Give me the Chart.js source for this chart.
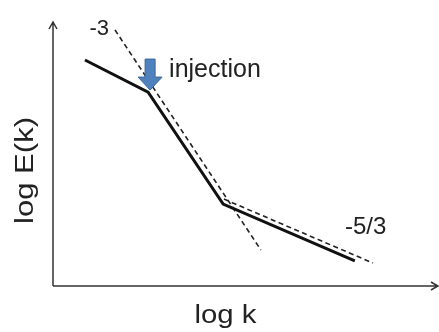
<!DOCTYPE html>
<html>
<head>
<meta charset="utf-8">
<script src="https://cdn.jsdelivr.net/npm/chart.js@4"></script>
<style>
  html, body { margin: 0; background: #fff; }
</style>
</head>
<body>
<canvas id="chart" width="439" height="332"></canvas>
<script>
// log k / log E(k) in arbitrary units, both axes run 0..10
const spectrumK = [0.83, 2.47, 4.42, 7.84];
const spectrumE = [8.66, 7.43, 3.14, 0.96];
const slope3K = [1.61, 5.40];
const slope3E = [9.81, 1.38];
const slope53K = [4.44, 8.31];
const slope53E = [3.33, 0.88];
const slopeLabels = ['-3', '-5/3'];
const injectionLabel = 'injection';
const axisTitles = ['log k', 'log E(k)'];

const toPoints = (xs, ys) => xs.map((x, i) => ({ x, y: ys[i] }));

const INK = '#222';
const FONT = '"Liberation Sans", Arial, sans-serif';

// text stretched to a target width (the reference type is a bit wide)
function fitText(ctx, text, x, y, size, width, rotate) {
  ctx.save();
  ctx.font = `${size}px ${FONT}`;
  ctx.fillStyle = INK;
  ctx.textAlign = 'center';
  ctx.textBaseline = 'alphabetic';
  ctx.translate(x, y);
  if (rotate) ctx.rotate(-Math.PI / 2);
  const natural = ctx.measureText(text).width;
  ctx.scale(width ? width / natural : 1, 1);
  ctx.fillText(text, 0, 0);
  ctx.restore();
}

const sketchPlugin = {
  id: 'sketch',
  afterDatasetsDraw(chart) {
    const { ctx, chartArea: area, scales } = chart;
    const px = (v) => scales.x.getPixelForValue(v);
    const py = (v) => scales.y.getPixelForValue(v);

    // axes with open arrow heads
    ctx.save();
    ctx.strokeStyle = '#333';
    ctx.lineWidth = 1.5;
    ctx.beginPath();
    ctx.moveTo(area.left, area.bottom);
    ctx.lineTo(area.left, area.top - 3);
    ctx.moveTo(area.left, area.bottom);
    ctx.lineTo(area.right, area.bottom);
    ctx.moveTo(area.left - 4, area.top + 4);
    ctx.lineTo(area.left, area.top - 3);
    ctx.lineTo(area.left + 4, area.top + 4);
    ctx.moveTo(area.right - 7, area.bottom - 4);
    ctx.lineTo(area.right, area.bottom);
    ctx.lineTo(area.right - 7, area.bottom + 4);
    ctx.stroke();
    ctx.restore();

    // injection arrow pointing at the first break
    const tipX = px(spectrumK[1]) + 2;
    const tipY = py(spectrumE[1]) - 2;
    ctx.save();
    ctx.fillStyle = '#4f81bd';
    ctx.strokeStyle = '#3a679c';
    ctx.lineWidth = 1;
    ctx.beginPath();
    ctx.moveTo(tipX, tipY);
    ctx.lineTo(tipX - 12, tipY - 13);
    ctx.lineTo(tipX - 5, tipY - 13);
    ctx.lineTo(tipX - 5, tipY - 31);
    ctx.lineTo(tipX + 5, tipY - 31);
    ctx.lineTo(tipX + 5, tipY - 13);
    ctx.lineTo(tipX + 12, tipY - 13);
    ctx.closePath();
    ctx.fill();
    ctx.stroke();
    ctx.restore();

    ctx.save();
    ctx.fillStyle = INK;
    ctx.textBaseline = 'alphabetic';
    ctx.font = `25px ${FONT}`;
    ctx.textAlign = 'left';
    ctx.fillText(injectionLabel, tipX + 19, tipY - 13);
    ctx.font = `22px ${FONT}`;
    ctx.textAlign = 'right';
    ctx.fillText(slopeLabels[0], px(slope3K[0]) - 6, py(slope3E[0]) + 5);
    ctx.font = `24px ${FONT}`;
    ctx.textAlign = 'left';
    ctx.fillText(slopeLabels[1], px(slope53K[1]) - 28, py(slope53E[1]) - 29);
    ctx.restore();

    // axis titles
    fitText(ctx, axisTitles[0], (area.left + area.right) / 2 - 20, area.bottom + 37, 26, 62, false);
    fitText(ctx, axisTitles[1], area.left - 20, (area.top + area.bottom) / 2 + 15, 26, 107, true);
  },
};

new Chart(document.getElementById('chart'), {
  type: 'scatter',
  data: {
    datasets: [
      {
        data: toPoints(spectrumK, spectrumE),
        showLine: true,
        borderColor: '#111',
        borderWidth: 3,
        borderJoinStyle: 'miter',
        pointRadius: 0,
      },
      {
        data: toPoints(slope3K, slope3E),
        showLine: true,
        borderColor: INK,
        borderWidth: 1.6,
        borderDash: [5, 3.5],
        pointRadius: 0,
      },
      {
        data: toPoints(slope53K, slope53E),
        showLine: true,
        borderColor: INK,
        borderWidth: 1.6,
        borderDash: [5, 3.5],
        pointRadius: 0,
      },
    ],
  },
  options: {
    responsive: false,
    animation: false,
    devicePixelRatio: 1,
    layout: { padding: { left: 53, right: 1, top: 25, bottom: 46 } },
    scales: {
      x: { type: 'linear', min: 0, max: 10, display: false },
      y: { type: 'linear', min: 0, max: 10, display: false },
    },
    plugins: { legend: { display: false }, tooltip: { enabled: false } },
  },
  plugins: [sketchPlugin],
});
</script>
</body>
</html>
